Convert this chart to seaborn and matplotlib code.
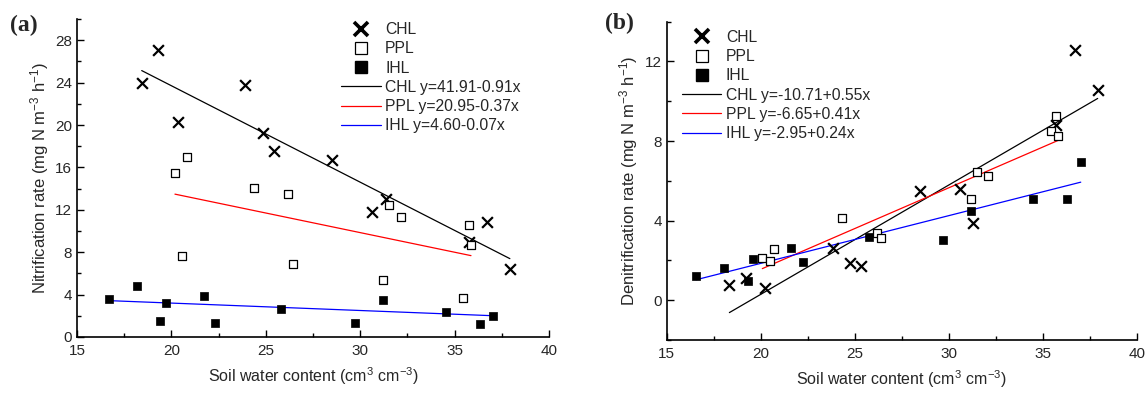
import numpy as np
import pandas as pd
import matplotlib
matplotlib.use('Agg')
import matplotlib.pyplot as plt
from matplotlib.lines import Line2D
from matplotlib.ticker import MultipleLocator
import seaborn as sns

sns.set_style('ticks')
plt.rcParams['font.family'] = ['Liberation Sans', 'DejaVu Sans']
plt.rcParams['mathtext.fontset'] = 'custom'
plt.rcParams['mathtext.rm'] = 'Liberation Sans'
plt.rcParams['mathtext.it'] = 'Liberation Sans'

# ---- panel (a): nitrification ----
a_chl_x = [18.43, 19.30, 20.33, 23.90, 24.84, 25.43, 28.49, 31.37, 30.64, 36.73, 35.76, 37.93]
a_chl_y = [24.0, 27.1, 20.3, 23.8, 19.27, 17.55, 16.7, 13.0, 11.76, 10.88, 8.93, 6.38]
a_ppl_x = [20.19, 20.81, 24.39, 20.58, 26.19, 26.42, 31.55, 32.14, 35.76, 35.87, 31.22, 35.44]
a_ppl_y = [15.44, 17.0, 14.03, 7.64, 13.46, 6.89, 12.5, 11.32, 10.57, 8.65, 5.41, 3.71]
a_ihl_x = [16.69, 18.16, 19.40, 19.70, 21.71, 22.31, 25.80, 31.22, 29.72, 34.53, 36.35, 37.05]
a_ihl_y = [3.55, 4.78, 1.51, 3.18, 3.87, 1.35, 2.61, 3.46, 1.35, 2.33, 1.19, 1.98]
a_intercepts = [41.91, 20.95, 4.60]
a_slopes = [-0.91, -0.37, -0.07]

# ---- panel (b): denitrification ----
b_chl_x = [36.72, 37.91, 35.71, 28.45, 30.60, 31.30, 25.33, 24.75, 23.86, 20.23, 19.21, 18.34]
b_chl_y = [12.56, 10.56, 8.82, 5.51, 5.58, 3.90, 1.71, 1.88, 2.64, 0.59, 1.13, 0.76]
b_ppl_x = [35.71, 35.41, 35.80, 31.48, 32.08, 31.18, 26.17, 26.38, 24.34, 20.09, 20.50, 20.71]
b_ppl_y = [9.24, 8.49, 8.24, 6.42, 6.22, 5.08, 3.39, 3.11, 4.15, 2.13, 1.97, 2.56]
b_ihl_x = [16.57, 18.07, 19.31, 19.61, 21.62, 22.24, 25.76, 29.68, 31.18, 34.49, 36.30, 37.01]
b_ihl_y = [1.23, 1.60, 0.97, 2.05, 2.61, 1.92, 3.19, 3.03, 4.49, 5.08, 5.08, 6.94]
b_intercepts = [-10.71, -6.65, -2.95]
b_slopes = [0.55, 0.41, 0.24]

sites = ['CHL', 'PPL', 'IHL']
line_colors = ['black', 'red', 'blue']

fig = plt.figure(figsize=(11.47, 3.93), dpi=100)
ax_a = fig.add_axes([0.0671, 0.1425, 0.4115, 0.809])
ax_b = fig.add_axes([0.5811, 0.1349, 0.4102, 0.810])


def eq_label(site, a, b):
    sign = '+' if b >= 0 else '-'
    return f'{site} y={a:.2f}{sign}{abs(b):.2f}x'


def draw_panel(ax, xs, ys, intercepts, slopes):
    # points
    sns.scatterplot(x=xs[0], y=ys[0], ax=ax, marker='x', color='black',
                    s=60, linewidth=1.6, legend=False, zorder=3)
    sns.scatterplot(x=xs[1], y=ys[1], ax=ax, marker='s', facecolor='white',
                    edgecolor='black', s=32, linewidth=0.9, legend=False, zorder=3)
    sns.scatterplot(x=xs[2], y=ys[2], ax=ax, marker='s', color='black',
                    edgecolor='black', s=40, linewidth=0.5, legend=False, zorder=3)
    # fitted lines over the range of each group
    for i in range(3):
        xr = np.array([min(xs[i]), max(xs[i])])
        line = pd.DataFrame({'x': xr, 'y': intercepts[i] + slopes[i] * xr})
        sns.lineplot(data=line, x='x', y='y', ax=ax, color=line_colors[i],
                     linewidth=0.9, legend=False, zorder=2)

    handles = [
        Line2D([], [], marker='x', color='black', linestyle='none', markersize=10, mew=2.6),
        Line2D([], [], marker='s', markerfacecolor='white', markeredgecolor='black',
               linestyle='none', markersize=8, mew=0.9),
        Line2D([], [], marker='s', color='black', linestyle='none', markersize=8),
    ]
    labels = list(sites)
    for i in range(3):
        handles.append(Line2D([], [], color=line_colors[i], linewidth=0.9))
        labels.append(eq_label(sites[i], intercepts[i], slopes[i]))
    return handles, labels


leg_kw = dict(loc='upper left', frameon=False, fontsize=11.3, handlelength=2.5,
              handletextpad=0.3, labelspacing=0.27, borderaxespad=0, borderpad=0)

# panel (a)
h, l = draw_panel(ax_a, [a_chl_x, a_ppl_x, a_ihl_x], [a_chl_y, a_ppl_y, a_ihl_y],
                  a_intercepts, a_slopes)
ax_a.set_xlim(15, 40)
ax_a.set_ylim(0, 30)
ax_a.set_yticks([0, 4, 8, 12, 16, 20, 24, 28])
ax_a.yaxis.set_minor_locator(MultipleLocator(2))
ax_a.set_ylabel('Nitrification rate (mg N m$^{-3}$ h$^{-1}$)', fontsize=12, labelpad=3)
ax_a.legend(h, l, bbox_to_anchor=(0.56, 0.99), **leg_kw)
ax_a.text(-0.142, 0.981, '(a)', transform=ax_a.transAxes, fontsize=17,
          fontweight='bold', family='Liberation Serif', va='center', ha='left')

# panel (b)
h, l = draw_panel(ax_b, [b_chl_x, b_ppl_x, b_ihl_x], [b_chl_y, b_ppl_y, b_ihl_y],
                  b_intercepts, b_slopes)
ax_b.set_xlim(15, 40)
ax_b.set_ylim(-2, 14)
ax_b.set_yticks([0, 4, 8, 12])
ax_b.yaxis.set_minor_locator(MultipleLocator(2))
ax_b.set_ylabel('Denitrification rate (mg N m$^{-3}$ h$^{-1}$)', fontsize=12, labelpad=3)
ax_b.legend(h, l, bbox_to_anchor=(0.033, 0.974), **leg_kw)
ax_b.text(-0.131, 0.995, '(b)', transform=ax_b.transAxes, fontsize=17,
          fontweight='bold', family='Liberation Serif', va='center', ha='left')

for ax in (ax_a, ax_b):
    ax.set_xticks([15, 20, 25, 30, 35, 40])
    ax.xaxis.set_minor_locator(MultipleLocator(2.5))
    ax.set_xlabel('Soil water content (cm$^{3}$ cm$^{-3}$)', fontsize=11.5, labelpad=5)
    ax.tick_params(which='both', direction='in', labelsize=11, width=1, color='black')
    ax.tick_params(which='major', length=5)
    ax.tick_params(which='minor', length=3)
    ax.tick_params(axis='x', pad=5)
    for side in ('top', 'right'):
        ax.spines[side].set_visible(False)
    for side in ('left', 'bottom'):
        ax.spines[side].set_linewidth(1.2)
        ax.spines[side].set_color('black')

fig.savefig('out.png', dpi=100)
